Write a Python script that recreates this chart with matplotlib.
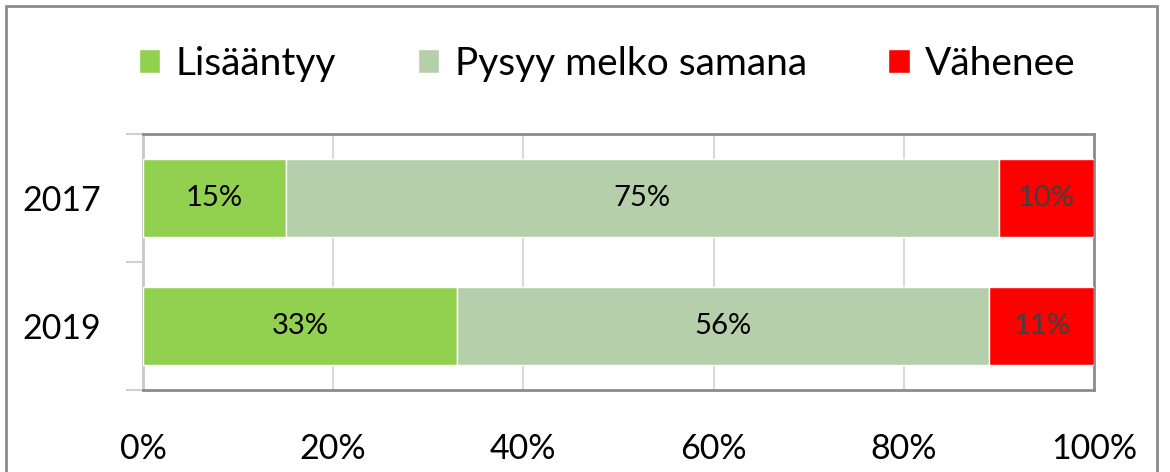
import matplotlib.pyplot as plt
import matplotlib.patches as mpatches
import numpy as np

plt.rcParams['font.family'] = ['Lato', 'DejaVu Sans']

years = ['2017', '2019']
series = ['Lisääntyy', 'Pysyy melko samana', 'Vähenee']
values = {
    'Lisääntyy': [15, 33],
    'Pysyy melko samana': [75, 56],
    'Vähenee': [10, 11],
}
colors = ['#92D050', '#B4CFA9', '#FF0000']
label_colors = ['black', 'black', '#404040']

fig = plt.figure(figsize=(11.7, 4.72), dpi=100)
ax = fig.add_axes([0.1222, 0.1737, 0.8128, 0.5423])

y = np.arange(len(years))
left = np.zeros(len(years))
for name, col, lcol in zip(series, colors, label_colors):
    vals = np.array(values[name])
    bars = ax.barh(y, vals, left=left, height=0.61, color=col,
                   edgecolor='white', linewidth=1, label=name, zorder=3)
    ax.bar_label(bars, labels=[f'{v}%' for v in vals], label_type='center',
                 fontsize=21, color=lcol)
    left += vals

ax.set_xlim(0, 100)
ax.set_ylim(1.5, -0.5)
ax.set_xticks(np.arange(0, 101, 20))
ax.set_xticklabels([f'{t}%' for t in range(0, 101, 20)], fontsize=24.5)
ax.tick_params(axis='x', length=0, pad=31)
ax.set_yticks(y)
ax.set_yticklabels(years, fontsize=24.5)
ax.tick_params(axis='y', which='major', length=0, pad=30)
ax.set_yticks([-0.5, 0.5, 1.5], minor=True)
ax.tick_params(axis='y', which='minor', length=12, color='#D0D0D0', width=1.5)
ax.grid(axis='x', color='#D9D9D9', linewidth=1.5, zorder=0)

for s in ['top', 'right', 'bottom']:
    ax.spines[s].set_color('#8C8C8C')
    ax.spines[s].set_linewidth(2)
ax.spines['left'].set_color('#C8C8C8')
ax.spines['left'].set_linewidth(2)

fig.legend(loc='center', bbox_to_anchor=(0.519, 0.865), ncol=3, frameon=False,
           fontsize=28, handlelength=0.55, handleheight=0.55, handletextpad=0.4,
           columnspacing=2.1)

border = mpatches.Rectangle((6 / 1170, -0.1), 1151 / 1170, 1.1 - 6 / 472,
                            transform=fig.transFigure, fill=False,
                            edgecolor='#8C8C8C', linewidth=2, clip_on=False)
fig.patches.append(border)

fig.savefig('out.png', dpi=100)
